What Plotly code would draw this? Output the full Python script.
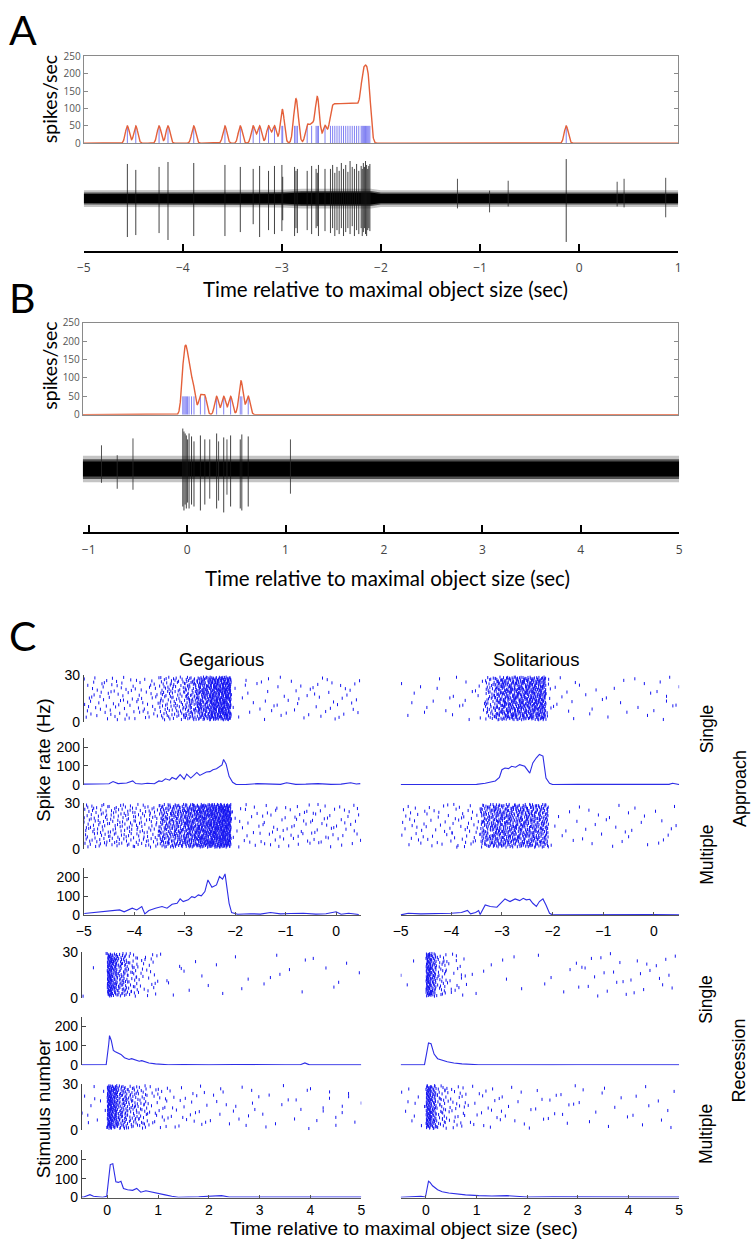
import numpy as np
import plotly.graph_objects as go

W, H = 755, 1248

# ======================= DATA =======================
# ---- Panel A (approach, single trial) ----
A_spikes = [-4.56, -4.475, -4.24, -4.15, -3.89, -3.575, -3.42, -3.29, -3.225, -3.135, -3.075, -3.0, -2.992,
            -2.872, -2.858, -2.844, -2.745, -2.70, -2.655, -2.643, -2.631, -2.565,
            -2.51, -2.488, -2.466, -2.444, -2.422, -2.40, -2.378, -2.356, -2.334, -2.312, -2.29, -2.268,
            -2.246, -2.224, -2.20, -2.189, -2.178, -2.167, -2.156, -2.145, -2.134, -2.123, -2.112, -0.13]
A_up = [35, 29, 32, 37, 36, 34, 32, 30, 33, 28, 33, 34, 22, 32, 28, 30, 28, 33, 30, 26, 34, 30,
        30, 34, 26, 32, 28, 36, 30, 34, 27, 38, 32, 30, 35, 28, 33, 30, 36, 32, 38, 34, 30, 33, 35, 40]
A_down = [39, 37, 35, 42, 38, 38, 34, 26, 39, 32, 36, 33, 22, 38, 30, 35, 32, 36, 30, 28, 38, 33,
          35, 30, 38, 32, 36, 30, 38, 34, 30, 36, 28, 38, 32, 36, 30, 38, 34, 30, 36, 38, 32, 30, 33, 44]
A_noise_t = [-1.228, -0.904, -0.716, 0.384, 0.454, 0.874]
A_noise_up = [20, 8, 18, 17, 20, 21]
A_noise_down = [10, 14, 8, 8, 9, 19]
A_env_t = [-5, -4, -3, -2.8, -2.1, -2.0, -1, 0, 1]
A_env = [4.5, 4.5, 5, 6, 6, 4.5, 4.5, 4.5, 4.5]
A_xticks = [-5, -4, -3, -2, -1, 0, 1]

# ---- Panel B (recession, single trial) ----
B_spikes = [-0.044, -0.032, -0.02, -0.008, 0.005, 0.02, 0.045, 0.07, 0.135, 0.18, 0.30, 0.372, 0.442,
            0.54, 0.556, 0.621]
B_up = [41, 38, 36, 34, 30, 36, 33, 28, 34, 30, 36, 32, 34, 30, 35, 33]
B_down = [38, 42, 36, 40, 34, 40, 36, 38, 42, 36, 40, 44, 38, 40, 42, 38]
B_noise_t = [-0.87, -0.71, -0.55, 0.23, 0.32, 0.405, 1.05]
B_noise_up = [24, 14, 31, 30, 28, 30, 30]
B_noise_down = [14, 20, 21, 30, 32, 26, 25]
B_env_t = [-1.06, 5.0]
B_env = [7.5, 7.5]
B_xticks = [-1, 0, 1, 2, 3, 4, 5]

rate_ticks = [0, 50, 100, 150, 200, 250]

# ---- Panel C: PSTH curves (Hz) ----
GSA_t = [-5.0, -4.8, -4.65, -4.5, -4.42, -4.32, -4.15, -4.03, -3.97, -3.85, -3.74, -3.6, -3.51, -3.45, -3.38,
         -3.3, -3.25, -3.17, -3.09, -3.01, -2.96, -2.88, -2.82, -2.76, -2.70, -2.63, -2.57, -2.5, -2.44, -2.37,
         -2.31, -2.26, -2.23, -2.18, -2.12, -2.05, -1.98, -1.8, -1.56, -1.3, -1.1, -0.98, -0.8, -0.6, -0.36,
         -0.1, 0.1, 0.29, 0.4, 0.48]
GSA_r = [4, 5, 9, 6, 18, 7, 10, 21, 7, 5, 9, 6, 21, 18, 32, 25, 39, 30, 54, 30, 57, 36, 50, 66, 50, 62, 68,
         70, 80, 85, 98, 105, 134, 111, 45, 14, 2, 2, 7, 3, 3, 11, 3, 4, 7, 3, 4, 11, 5, 7]

GMA_t = [-4.99, -4.81, -4.62, -4.42, -4.29, -4.2, -4.13, -4.04, -3.95, -3.85, -3.79, -3.71, -3.58, -3.45,
         -3.35, -3.25, -3.15, -3.09, -3.03, -2.93, -2.86, -2.8, -2.73, -2.67, -2.6, -2.54, -2.46, -2.37,
         -2.31, -2.25, -2.2, -2.16, -2.12, -2.07, -1.95, -1.7, -1.5, -1.3, -1.1, -0.9, -0.65, -0.4, -0.2,
         0.0, 0.1, 0.25, 0.45]
GMA_r = [9, 14, 18, 21, 28, 18, 25, 37, 28, 46, 7, 25, 37, 46, 37, 58, 63, 86, 72, 81, 98, 93, 107, 102,
         125, 186, 147, 160, 204, 190, 218, 133, 63, 14, 5, 8, 6, 14, 7, 9, 10, 6, 8, 18, 5, 10, 4]

SSA_t = [-5, -4, -3.5, -3.33, -3.2, -3.13, -3.05, -3.0, -2.94, -2.87, -2.81, -2.73, -2.65, -2.55, -2.45,
         -2.39, -2.32, -2.26, -2.19, -2.13, -2.06, -2.0, -1.5, -1, -0.5, 0, 0.3, 0.37, 0.45, 0.5]
SSA_r = [2, 2, 3, 9, 18, 21, 40, 80, 89, 86, 98, 93, 107, 98, 62, 116, 143, 161, 152, 36, 9, 2, 3, 2, 3,
         2, 3, 9, 4, 2]

SMA_t = [-5, -4.85, -4.6, -4.28, -4.0, -3.8, -3.68, -3.62, -3.52, -3.46, -3.43, -3.33, -3.23, -3.1, -3.0,
         -2.94, -2.84, -2.74, -2.65, -2.58, -2.52, -2.45, -2.39, -2.32, -2.26, -2.19, -2.13, -2.06, -2.0,
         -1.5, -1.0, -0.5, 0, 0.5]
SMA_r = [2, 10, 7, 7, 10, 14, 25, 7, 14, 25, 4, 54, 46, 42, 72, 86, 72, 86, 77, 89, 81, 84, 63, 46, 72,
         86, 54, 10, 2, 3, 2, 3, 3, 2]

GSR_t = [-0.5, -0.3, -0.02, 0.03, 0.045, 0.08, 0.12, 0.16, 0.21, 0.27, 0.34, 0.43, 0.48, 0.53, 0.63, 0.68,
         0.72, 0.82, 0.95, 1.2, 1.5, 2, 2.5, 3, 3.5, 3.8, 3.89, 3.98, 4.5, 5]
GSR_r = [2, 3, 3, 110, 153, 128, 77, 70, 65, 56, 39, 30, 34, 30, 21, 24, 21, 12, 7, 3, 4, 2, 4, 2, 3, 3,
         12, 2, 4, 2]

GMR_t = [-0.5, -0.46, -0.34, -0.27, -0.09, -0.01, 0.06, 0.11, 0.17, 0.22, 0.27, 0.32, 0.4, 0.5, 0.58,
         0.66, 0.76, 0.88, 1.01, 1.14, 1.27, 1.4, 1.8, 2.25, 2.4, 3, 3.5, 4, 4.5, 5]
GMR_r = [3, 3, 15, 7, 2, 7, 174, 179, 83, 80, 86, 48, 41, 38, 48, 28, 36, 28, 19, 14, 7, 2, 4, 10, 3, 3,
         2, 3, 2, 3]

SSR_t = [-0.5, -0.03, 0.01, 0.05, 0.1, 0.16, 0.23, 0.33, 0.42, 0.55, 0.71, 1.04, 1.5, 2, 2.5, 3, 3.5, 4,
         4.5, 5]
SSR_r = [2, 2, 58, 115, 111, 58, 34, 25, 18, 12, 7, 3, 2, 3, 2, 3, 2, 3, 2, 2]

SMR_t = [-0.5, -0.24, -0.1, -0.01, 0.05, 0.08, 0.13, 0.23, 0.32, 0.45, 0.58, 0.78, 1.04, 1.3, 1.6, 2, 2.5,
         3, 3.5, 4, 4.5, 5]
SMR_r = [2, 5, 7, 3, 86, 80, 62, 41, 31, 24, 19, 14, 10, 8, 10, 3, 4, 3, 3, 4, 3, 3]

# ---- Panel C: raster spike counts per time bin (all 30 stimuli together) ----
GSA_edges = [-5, -4.5, -4, -3.5, -3, -2.75, -2.5, -2.3, -2.08, -1.5, -1, -0.5, 0, 0.5]
GSA_counts = [30, 35, 35, 100, 90, 150, 170, 210, 12, 12, 12, 14, 14]
GMA_edges = [-5, -4.5, -4, -3.5, -3.25, -3, -2.75, -2.5, -2.3, -2.08, -1.5, -1, -0.5, 0, 0.5]
GMA_counts = [70, 75, 70, 100, 120, 160, 190, 180, 230, 22, 22, 24, 24, 20]
SSA_edges = [-5, -4, -3.5, -3.33, -3.15, -3.0, -2.75, -2.5, -2.3, -2.13, -2.03, -1.5, -1, -0.5, 0, 0.5]
SSA_counts = [12, 10, 6, 45, 70, 150, 160, 130, 120, 8, 10, 6, 6, 5, 10]
SMA_edges = [-5, -4.5, -4, -3.88, -3.42, -3.2, -3.0, -2.75, -2.5, -2.3, -2.08, -1.5, -1, -0.5, 0, 0.5]
SMA_counts = [22, 22, 8, 30, 85, 100, 120, 120, 100, 100, 8, 8, 8, 6, 8]
GSR_edges = [-0.5, 0, 0.1, 0.2, 0.4, 0.6, 1.0, 1.5, 2, 3, 4, 5]
GSR_counts = [3, 100, 60, 70, 35, 28, 6, 5, 5, 7, 6]
GMR_edges = [-0.5, 0, 0.1, 0.2, 0.4, 0.6, 0.8, 1.2, 2, 3, 4, 5]
GMR_counts = [12, 110, 75, 85, 50, 35, 28, 25, 18, 12, 14]
SSR_edges = [-0.5, 0, 0.1, 0.2, 0.4, 0.8, 2, 3, 4, 5]
SSR_counts = [3, 95, 55, 35, 22, 8, 6, 16, 14]
SMR_edges = [-0.5, 0, 0.1, 0.2, 0.4, 0.8, 1.5, 2, 3, 4, 5]
SMR_counts = [10, 90, 55, 40, 32, 20, 8, 16, 10, 10]

approach_ticks = [-5, -4, -3, -2, -1, 0]
recession_ticks = [0, 1, 2, 3, 4, 5]

# ======================= HELPERS =======================
fig = go.Figure()
axes_layout = {}
_n = [0]


def new_axes(xpx, ypx, xr, yr, xo=None, yo=None):
    _n[0] += 1
    s = '' if _n[0] == 1 else str(_n[0])
    base = dict(showgrid=False, zeroline=False, showticklabels=False, ticks='', showline=False,
                fixedrange=True)
    xd = dict(base, domain=[xpx[0] / W, xpx[1] / W], range=xr, anchor='y' + s)
    yd = dict(base, domain=[1 - ypx[1] / H, 1 - ypx[0] / H], range=yr, anchor='x' + s)
    if xo:
        xd.update(xo)
    if yo:
        yd.update(yo)
    axes_layout['xaxis' + s] = xd
    axes_layout['yaxis' + s] = yd
    return 'x' + s, 'y' + s


def segs(xs, y0s, y1s, xa, ya, color, width):
    X, Y = [], []
    for x, a, b in zip(xs, y0s, y1s):
        X += [x, x, None]
        Y += [a, b, None]
    fig.add_trace(go.Scatter(x=X, y=Y, mode='lines', line=dict(color=color, width=width),
                             xaxis=xa, yaxis=ya, hoverinfo='skip', showlegend=False))


def line(xs, ys, xa, ya, color, width):
    fig.add_trace(go.Scatter(x=xs, y=ys, mode='lines', line=dict(color=color, width=width),
                             xaxis=xa, yaxis=ya, hoverinfo='skip', showlegend=False))


def band(ts, half, extra, xa, ya, color):
    up = [h + extra for h in half]
    xs = list(ts) + list(ts)[::-1]
    ys = up + [-v for v in up][::-1]
    fig.add_trace(go.Scatter(x=xs, y=ys, mode='lines', fill='toself', fillcolor=color,
                             line=dict(width=0, color=color), xaxis=xa, yaxis=ya,
                             hoverinfo='skip', showlegend=False))


def halton(i, b):
    f, r = 1.0, 0.0
    while i > 0:
        f /= b
        r += f * (i % b)
        i //= b
    return r


def raster(edges, counts, offset, xa, ya):
    xs, y0, y1 = [], [], []
    idx = offset
    for k, c in enumerate(counts):
        a, b = edges[k], edges[k + 1]
        for _ in range(c):
            idx += 1
            xs.append(a + (b - a) * halton(idx, 2))
            yy = 0.2 + 27.8 * halton(idx, 3)
            y0.append(yy)
            y1.append(yy + 2.0)
    segs(xs, y0, y1, xa, ya, 'rgb(20,20,240)', 1)


def kernel_rate(spikes, t):
    r = np.zeros_like(t)
    for s in spikes:
        r += 50.0 * np.exp(-(t - s) ** 2 / (2 * 0.02 ** 2))
    return r


FRAME = '#8a8a8a'
RED = '#e4603a'
LBLUE = 'rgba(105,105,240,0.85)'
CURVE = 'rgb(45,45,230)'
ABFONT = 'Lato'
CFONT = 'Liberation Sans, Arial, sans-serif'

# ======================= PANEL A =======================
rate_y = dict(showline=True, mirror='ticks', linecolor=FRAME, linewidth=1, ticks='inside', ticklen=4,
              tickcolor=FRAME, tickvals=rate_ticks, showticklabels=True,
              tickfont=dict(family='Open Sans', size=10, color='#555'))
rate_x = dict(showline=True, mirror=True, linecolor=FRAME, linewidth=1)

xa, ya = new_axes((77, 681), (49, 137), [-5, 1], [0, 250], xo=rate_x, yo=rate_y)
segs(A_spikes, [0] * len(A_spikes), [50] * len(A_spikes), xa, ya, LBLUE, 1)
tA = np.linspace(-5, 1, 3001)
line(tA, kernel_rate(A_spikes, tA), xa, ya, RED, 1.4)

trace_x = lambda ticks: dict(showline=True, linecolor='black', linewidth=2, ticks='inside', ticklen=7,
                             tickwidth=2, tickcolor='black', tickvals=ticks, showticklabels=True,
                             tickfont=dict(family='Open Sans', size=12, color='#444'),
                             ticklabelstandoff=5)
xa, ya = new_axes((77, 681), (150, 246), [-5, 1], [-53, 43], xo=trace_x(A_xticks))
band(A_env_t, A_env, 4, xa, ya, '#c4c4c4')
band(A_env_t, A_env, 1.5, xa, ya, '#505050')
band(A_env_t, A_env, 0, xa, ya, '#000000')
segs(A_noise_t, [-d for d in A_noise_down], A_noise_up, xa, ya, 'rgba(40,40,40,0.8)', 1)
segs(A_spikes, [-d for d in A_down], A_up, xa, ya, 'rgba(20,20,20,0.8)', 1)

# ======================= PANEL B =======================
xa, ya = new_axes((76, 681), (319, 412), [-1.06, 4.99], [0, 250], xo=rate_x, yo=rate_y)
segs(B_spikes, [0] * len(B_spikes), [50] * len(B_spikes), xa, ya, LBLUE, 1)
tB = np.linspace(-1.06, 4.99, 3001)
line(tB, kernel_rate(B_spikes, tB), xa, ya, RED, 1.4)

xa, ya = new_axes((76, 682), (420, 531), [-1.06, 5.0], [-64, 47], xo=trace_x(B_xticks))
band(B_env_t, B_env, 6, xa, ya, '#c4c4c4')
band(B_env_t, B_env, 2.5, xa, ya, '#505050')
band(B_env_t, B_env, 0, xa, ya, '#000000')
segs(B_noise_t, [-d for d in B_noise_down], B_noise_up, xa, ya, 'rgba(40,40,40,0.8)', 1)
segs(B_spikes, [-d for d in B_down], B_up, xa, ya, 'rgba(20,20,20,0.8)', 1)

# ======================= PANEL C =======================
def c_yopts(vals):
    return dict(showline=True, linecolor='#444', linewidth=1, ticks='inside', ticklen=4, tickcolor='#444',
                tickvals=vals, showticklabels=True, tickfont=dict(family=CFONT, size=14, color='black'))


def c_xopts(vals, standoff):
    return dict(showline=True, linecolor='#555', linewidth=1, ticks='inside', ticklen=3, tickcolor='#555',
                tickvals=vals, showticklabels=True, tickfont=dict(family=CFONT, size=14, color='black'),
                ticklabelstandoff=standoff)


rows_app = [(676, 723), (739, 787), (805, 852), (871, 919)]
rows_rec = [(956, 1003), (1022, 1071), (1090, 1137), (1157, 1205)]

panels = [
    ((77, 359), [-5, 0.5], rows_app, approach_ticks, True, 3,
     [(GSA_edges, GSA_counts), (GSA_t, GSA_r), (GMA_edges, GMA_counts), (GMA_t, GMA_r)]),
    ((399, 682), [-5, 0.5], rows_app, approach_ticks, False, 3,
     [(SSA_edges, SSA_counts), (SSA_t, SSA_r), (SMA_edges, SMA_counts), (SMA_t, SMA_r)]),
    ((75, 359), [-0.5, 5], rows_rec, recession_ticks, True, 0,
     [(GSR_edges, GSR_counts), (GSR_t, GSR_r), (GMR_edges, GMR_counts), (GMR_t, GMR_r)]),
    ((399, 682), [-0.5, 5], rows_rec, recession_ticks, False, 0,
     [(SSR_edges, SSR_counts), (SSR_t, SSR_r), (SMR_edges, SMR_counts), (SMR_t, SMR_r)]),
]

off = 0
for xpx, xr, rows, ticks, left, standoff, data in panels:
    for i in range(4):
        is_raster = (i % 2 == 0)
        yr = [0, 30] if is_raster else [0, 250]
        yo = None
        if left:
            yo = c_yopts([0, 30] if is_raster else [0, 100, 200])
        xo = c_xopts(ticks, standoff) if i == 3 else None
        xa, ya = new_axes(xpx, rows[i], xr, yr, xo=xo, yo=yo)
        if is_raster:
            off += 777
            raster(data[i][0], data[i][1], off, xa, ya)
        else:
            line(data[i][0], data[i][1], xa, ya, CURVE, 1.1)

# ======================= TEXT =======================
def ann(text, x, y, size, family, angle=0, color='black'):
    return dict(text=text, x=x / W, y=1 - y / H, xref='paper', yref='paper', showarrow=False,
                xanchor='center', yanchor='middle', textangle=angle,
                font=dict(family=family, size=size, color=color))


xtitle = 'Time relative to maximal object size (sec)'
annotations = [
    ann('A', 15, 22, 41, ABFONT),
    ann('B', 15, 293, 41, ABFONT),
    ann('C', 15, 636, 41, ABFONT),
    ann('spikes/sec', 42, 92, 19.5, ABFONT, -90),
    ann('spikes/sec', 42, 362, 19.5, ABFONT, -90),
    ann(xtitle, 384, 285, 20.5, ABFONT),
    ann(xtitle, 386, 577, 20.5, ABFONT),
    ann('Gegarious', 217, 660, 18.5, CFONT),
    ann('Solitarious', 537, 660, 18.5, CFONT),
    ann('Spike rate (Hz)', 36, 762, 18.5, CFONT, -90),
    ann('Stimulus number', 36, 1115, 18.5, CFONT, -90),
    ann('Single', 710, 730, 17.5, CFONT, -90),
    ann('Multiple', 710, 858, 17.5, CFONT, -90),
    ann('Approach', 744, 791, 18, CFONT, -90),
    ann('Single', 709, 1004, 17.5, CFONT, -90),
    ann('Multiple', 710, 1141, 17.5, CFONT, -90),
    ann('Recession', 743, 1066, 18, CFONT, -90),
    ann(xtitle, 402, 1236, 19, CFONT),
]

fig.update_layout(
    width=W, height=H, margin=dict(l=0, r=0, t=0, b=0),
    paper_bgcolor='white', plot_bgcolor='rgba(0,0,0,0)',
    showlegend=False, annotations=annotations, **axes_layout
)

fig.write_html('out.html', config=dict(displayModeBar=False, staticPlot=True),
               post_script="document.body.style.margin='0px';document.body.style.padding='0px';"
                           "document.body.style.overflow='hidden';")
